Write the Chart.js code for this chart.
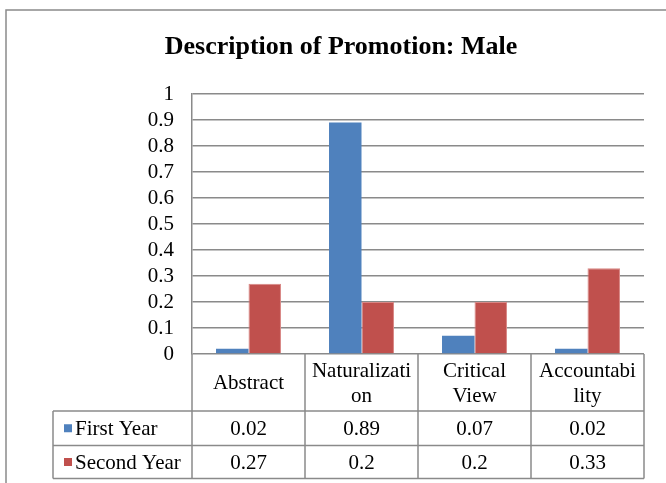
<!DOCTYPE html>
<html>
<head>
<meta charset="utf-8">
<script src="https://cdn.jsdelivr.net/npm/chart.js@4"></script>
<style>
html,body{margin:0;padding:0;background:#fff;}
canvas{display:block;}
</style>
</head>
<body>
<canvas id="c" width="666" height="483"></canvas>
<script>
const chartTitle = 'Description of Promotion: Male';
const categories = ['Abstract', 'Naturalization', 'Critical View', 'Accountability'];
const categoryLabelLines = [['Abstract'], ['Naturalizati', 'on'], ['Critical', 'View'], ['Accountabi', 'lity']];
const seriesNames = ['First Year', 'Second Year'];
const firstYear = [0.02, 0.89, 0.07, 0.02];
const secondYear = [0.27, 0.2, 0.2, 0.33];
const firstYearText = ['0.02', '0.89', '0.07', '0.02'];
const secondYearText = ['0.27', '0.2', '0.2', '0.33'];
const yTicks = [0, 0.1, 0.2, 0.3, 0.4, 0.5, 0.6, 0.7, 0.8, 0.9, 1];

const BLUE = '#4F81BD', RED = '#C0504D', LINE = '#8a8a8a';
const FONT = "'Liberation Serif', 'Times New Roman', serif";

const tablePlugin = {
  id: 'tablePlugin',
  afterDraw(chart) {
    const ctx = chart.ctx;
    const xs = chart.scales.x;
    const area = chart.chartArea;
    ctx.save();
    // outer frame
    ctx.strokeStyle = LINE;
    ctx.lineWidth = 1.5;
    ctx.strokeRect(6, 10, 720, 520);
    // title
    ctx.fillStyle = '#000';
    ctx.font = 'bold 26px ' + FONT;
    ctx.textAlign = 'center';
    ctx.textBaseline = 'middle';
    ctx.fillText(chartTitle, 341, 47);

    const n = categories.length;
    const step = (area.right - area.left) / n;
    const top = area.bottom;
    const r1 = top + 57, r2 = r1 + 34.5, r3 = r2 + 33;
    const tableLeft = 53;
    ctx.strokeStyle = LINE;
    ctx.lineWidth = 1.5;
    ctx.beginPath();
    for (let i = 0; i <= n; i++) {
      const x = area.left + i * step;
      ctx.moveTo(x, top); ctx.lineTo(x, r3);
    }
    ctx.moveTo(tableLeft, r1); ctx.lineTo(tableLeft, r3);
    ctx.moveTo(tableLeft, r1); ctx.lineTo(area.right, r1);
    ctx.moveTo(tableLeft, r2); ctx.lineTo(area.right, r2);
    ctx.moveTo(tableLeft, r3); ctx.lineTo(area.right, r3);
    ctx.stroke();

    ctx.fillStyle = '#000';
    ctx.font = '21px ' + FONT;
    ctx.textAlign = 'center';
    ctx.textBaseline = 'middle';
    const catMid = (top + r1) / 2;
    categoryLabelLines.forEach((lines, i) => {
      const cx = xs.getPixelForValue(i);
      const lh = 25;
      const start = catMid - (lines.length - 1) * lh / 2;
      lines.forEach((t, j) => ctx.fillText(t, cx, start + j * lh + 1));
    });
    const rowMids = [(r1 + r2) / 2, (r2 + r3) / 2];
    const texts = [firstYearText, secondYearText];
    texts.forEach((row, k) => {
      row.forEach((t, i) => ctx.fillText(t, xs.getPixelForValue(i), rowMids[k] + 1));
    });
    const colors = [BLUE, RED];
    ctx.textAlign = 'left';
    seriesNames.forEach((s, k) => {
      ctx.fillStyle = colors[k];
      ctx.fillRect(64, rowMids[k] - 4, 8, 8);
      ctx.fillStyle = '#000';
      ctx.fillText(s, 75, rowMids[k] + 1);
    });
    ctx.restore();
  }
};

new Chart(document.getElementById('c'), {
  type: 'bar',
  data: {
    labels: categories,
    datasets: [
      { label: seriesNames[0], data: firstYear, backgroundColor: BLUE, borderWidth: 0 },
      { label: seriesNames[1], data: secondYear, backgroundColor: RED, borderColor: '#d98886', borderWidth: 1 }
    ]
  },
  options: {
    responsive: false,
    animation: false,
    devicePixelRatio: 1,
    datasets: { bar: { categoryPercentage: 0.575, barPercentage: 1.0 } },
    layout: { padding: { top: 94, right: 22, bottom: 129, left: 0 } },
    plugins: { legend: { display: false }, title: { display: false }, tooltip: { enabled: false } },
    scales: {
      x: { display: false },
      y: {
        min: 0, max: 1,
        afterFit(scale) { scale.width = 192; },
        afterBuildTicks(scale) { scale.ticks = yTicks.map(v => ({ value: v })); },
        ticks: {
          autoSkip: false,
          stepSize: 0.1,
          padding: 18,
          color: '#000',
          font: { family: FONT, size: 21 },
          callback: (v) => String(Math.round(v * 10) / 10)
        },
        grid: { color: LINE, lineWidth: 1.5, drawTicks: false },
        border: { display: true, color: LINE, width: 1.5 }
      }
    }
  },
  plugins: [tablePlugin]
});
</script>
</body>
</html>
